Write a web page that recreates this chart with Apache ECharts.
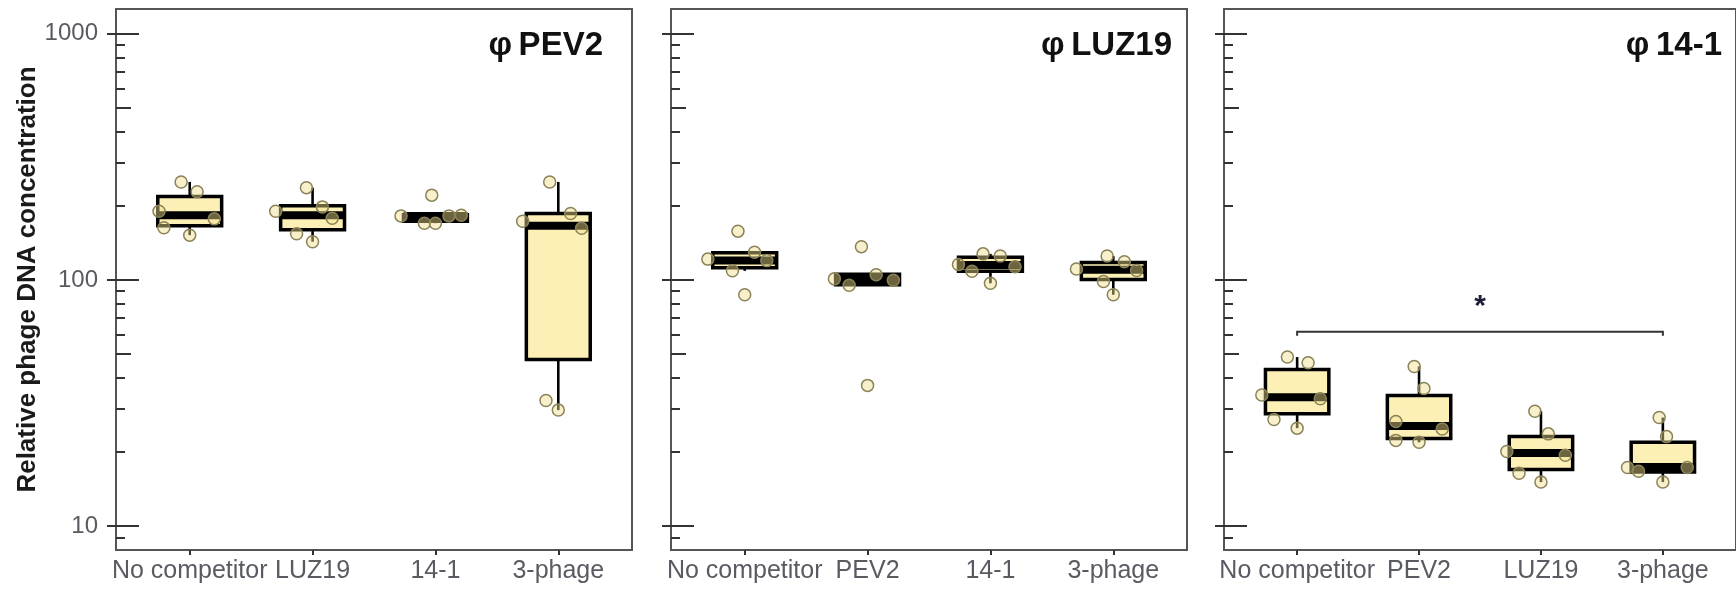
<!DOCTYPE html>
<html><head><meta charset="utf-8">
<script src="https://cdn.jsdelivr.net/npm/echarts@6/dist/echarts.min.js"></script>
<style>html,body{margin:0;padding:0;background:#fff}#c{width:1736px;height:593px}</style>
</head><body><div id="c"></div>
<script>
// ---------------- DATA ----------------
const panelTitles = ['φ\u2009PEV2', 'φ\u2009LUZ19', 'φ\u200914-1'];
const categoriesPEV2 = ['No competitor', 'LUZ19', '14-1', '3-phage'];
const categoriesLUZ19 = ['No competitor', 'PEV2', '14-1', '3-phage'];
const categories141 = ['No competitor', 'PEV2', 'LUZ19', '3-phage'];

// box statistics: [whisker low, Q1, median, Q3, whisker high]
const boxPEV2 = [[152, 166, 183, 218, 250], [143, 160, 183, 200, 237], [170, 173, 182, 184, 184], [29.6, 47.5, 166, 186, 250]];
const boxLUZ19 = [[108.9, 112, 120, 129, 129.5], [95.2, 95.5, 100.3, 105.5, 105.5], [96.9, 108.5, 115, 123.5, 127.6], [87.1, 100.3, 110, 117.7, 125]];
const box141 = [[25, 28.6, 33.4, 43.3, 48.6], [21.9, 22.7, 25.5, 33.9, 44.5], [15.1, 17, 19.8, 23.1, 29.3], [15.1, 16.6, 17.4, 21.9, 27.6]];

// individual replicate values
const ptsPEV2 = [[250, 228, 190, 177, 163, 152], [237, 198, 190, 178, 154, 143], [221, 182, 170, 170, 182, 183], [250, 186, 173, 162, 32.4, 29.6]];
const ptsLUZ19 = [[157.8, 121.5, 129.5, 119.8, 108.9, 87.1], [136.5, 101, 95.2, 105, 99.7, 37.3], [127.6, 125, 115.6, 108.5, 113.2, 96.9], [110.8, 125, 118.5, 109.3, 98.6, 87.1]];
const pts141 = [[48.6, 46.1, 34.1, 32.9, 27.1, 25.0], [44.5, 36.2, 26.6, 24.8, 22.3, 21.9], [29.3, 23.7, 20.1, 19.4, 16.4, 15.1], [27.6, 23.1, 17.3, 16.7, 17.3, 15.1]];
// horizontal jitter of each replicate (category units)
const jitPEV2 = [[-0.07, 0.06, -0.25, 0.2, -0.21, 0], [-0.05, 0.08, -0.3, 0.16, -0.13, 0], [-0.03, -0.28, -0.09, 0, 0.11, 0.21], [-0.07, 0.1, -0.29, 0.19, -0.1, 0]];
const jitLUZ19 = [[-0.055, -0.3, 0.08, 0.18, -0.1, 0], [-0.05, -0.27, -0.15, 0.07, 0.21, 0], [-0.06, 0.08, -0.26, -0.15, 0.2, 0], [-0.3, -0.05, 0.09, 0.19, -0.08, 0]];
const jit141 = [[-0.08, 0.09, -0.29, 0.19, -0.19, 0], [-0.04, 0.04, -0.19, 0.19, -0.19, 0], [-0.05, 0.06, -0.28, 0.2, -0.18, 0], [-0.03, 0.03, -0.29, -0.2, 0.2, 0]];

// significance bracket in panel 3: from category 0 to 3
const sigFrom = 0, sigTo = 3, sigLevel = 61.6, sigStarLevel = 79.7, sigText = '*';

// axis ticks
const yTickMajor = [10, 100, 1000];
const yTickLabels = ['10', '100', '1000'];
const yTickMid = [50, 500];
const yTickMinor = [9, 20, 30, 40, 60, 70, 80, 90, 200, 300, 400, 600, 700, 800, 900];
const yMin = 8, yMax = 1260;
const yTitle = 'Relative phage DNA concentration';

// ---------------- CHART ----------------
const panels = [
  {cats: categoriesPEV2, box: boxPEV2, pts: ptsPEV2, jit: jitPEV2},
  {cats: categoriesLUZ19, box: boxLUZ19, pts: ptsLUZ19, jit: jitLUZ19},
  {cats: categories141, box: box141, pts: pts141, jit: jit141}
];
const FONT = 'Liberation Sans, Arial, sans-serif';
const gridLefts = [116, 671, 1224];
const titleRights = [1133, 564, 14];

const grid = [], xAxis = [], yAxis = [], series = [], title = [];
panels.forEach((p, g) => {
  grid.push({left: gridLefts[g], top: 9, width: 516, height: 541, show: true, borderColor: '#555', borderWidth: 2, backgroundColor: 'transparent'});
  title.push({text: panelTitles[g], right: titleRights[g], top: 29, padding: 0,
    textStyle: {fontSize: 33, fontWeight: 'bold', color: '#111', fontFamily: FONT}});
  const cats = p.cats;
  xAxis.push({gridIndex: g, type: 'value', min: -0.6, max: 3.6, splitLine: {show: false},
    axisLine: {show: true, onZero: false, lineStyle: {color: '#555', width: 2}},
    axisTick: {show: true, customValues: [0, 1, 2, 3], length: 5, lineStyle: {color: '#333', width: 2}},
    axisLabel: {show: true, customValues: [0, 1, 2, 3], formatter: v => cats[Math.round(v)],
      fontSize: 25, color: '#5a5b62', margin: 9, fontFamily: FONT}});
  const base = {gridIndex: g, type: 'log', logBase: 10, min: yMin, max: yMax, position: 'left', splitLine: {show: false}};
  // main axis (with labels on panel 1)
  yAxis.push(Object.assign({}, base, {
    axisLine: {show: true, onZero: false, lineStyle: {color: '#555', width: 2}},
    axisTick: {show: true, inside: false, customValues: yTickMajor, length: 9, lineStyle: {color: '#333', width: 2}},
    axisLabel: {show: g === 0, customValues: yTickMajor, formatter: v => yTickLabels[yTickMajor.indexOf(Math.round(v))] || '',
      fontSize: 24, color: '#5a5b62', margin: 18, fontFamily: FONT},
    name: g === 0 ? yTitle : '', nameLocation: 'middle', nameRotate: 90, nameGap: 73,
    nameTextStyle: {fontSize: 26, fontWeight: 'bold', color: '#1a1a1a', fontFamily: FONT}
  }));
  yAxis.push(Object.assign({}, base, {axisLine: {show: false, onZero: false}, axisLabel: {show: false},
    axisTick: {show: true, inside: true, customValues: yTickMajor, length: 23, lineStyle: {color: '#333', width: 2}}}));
  yAxis.push(Object.assign({}, base, {axisLine: {show: false, onZero: false}, axisLabel: {show: false},
    axisTick: {show: true, inside: true, customValues: yTickMid, length: 15, lineStyle: {color: '#333', width: 2}}}));
  yAxis.push(Object.assign({}, base, {axisLine: {show: false, onZero: false}, axisLabel: {show: false},
    axisTick: {show: true, inside: true, customValues: yTickMinor, length: 9, lineStyle: {color: '#333', width: 2}}}));

  // boxes
  series.push({
    type: 'custom', xAxisIndex: g, yAxisIndex: g * 4, silent: true, z: 2,
    data: p.box.map((b, i) => [i].concat(b)),
    encode: {x: 0, y: [1, 2, 3, 4, 5]},
    renderItem: (params, api) => {
      const x = api.value(0);
      const pLo = api.coord([x, api.value(1)]), pQ1 = api.coord([x, api.value(2)]),
            pMed = api.coord([x, api.value(3)]), pQ3 = api.coord([x, api.value(4)]), pHi = api.coord([x, api.value(5)]);
      const half = api.size([0.52, 0])[0] / 2;
      const st = {stroke: '#000', lineWidth: 2.6};
      return {type: 'group', children: [
        {type: 'line', shape: {x1: pQ3[0], y1: pQ3[1], x2: pHi[0], y2: pHi[1]}, style: st},
        {type: 'line', shape: {x1: pQ1[0], y1: pQ1[1], x2: pLo[0], y2: pLo[1]}, style: st},
        {type: 'rect', shape: {x: pQ3[0] - half, y: pQ3[1], width: 2 * half, height: pQ1[1] - pQ3[1]},
          style: {fill: '#FDF0B6', stroke: '#000', lineWidth: 3.5}},
        {type: 'line', shape: {x1: pMed[0] - half, y1: pMed[1], x2: pMed[0] + half, y2: pMed[1]},
          style: {stroke: '#000', lineWidth: 8}}
      ]};
    }
  });
  // replicate points
  const pdata = [];
  p.pts.forEach((arr, i) => arr.forEach((v, k) => pdata.push([i + p.jit[i][k], v])));
  series.push({
    type: 'scatter', xAxisIndex: g, yAxisIndex: g * 4, silent: true, z: 3,
    symbol: 'circle', symbolSize: 12, data: pdata,
    itemStyle: {color: 'rgba(240,222,140,0.45)', borderColor: '#8a8258', borderWidth: 1.5, opacity: 1}
  });
});

// significance bracket (panel 3)
series.push({
  type: 'custom', xAxisIndex: 2, yAxisIndex: 8, silent: true, z: 4,
  data: [[sigFrom, sigTo, sigLevel, sigStarLevel]],
  encode: {x: [0, 1], y: [2, 3]},
  renderItem: (params, api) => {
    const a = api.coord([api.value(0), api.value(2)]);
    const b = api.coord([api.value(1), api.value(2)]);
    const s = api.coord([(api.value(0) + api.value(1)) / 2, api.value(3)]);
    return {type: 'group', children: [
      {type: 'polyline', shape: {points: [[a[0], a[1] + 4], a, b, [b[0], b[1] + 4]]},
        style: {stroke: '#333', lineWidth: 2, fill: null}},
      {type: 'text', x: s[0], y: s[1] + 3, style: {text: sigText, fontSize: 30, fontWeight: 'bold',
        fill: '#1e1e3c', fontFamily: FONT, align: 'center', verticalAlign: 'middle'}}
    ]};
  }
});

const chart = echarts.init(document.getElementById('c'), null, {renderer: 'canvas'});
chart.setOption({animation: false, backgroundColor: '#fff', title, grid, xAxis, yAxis, series});
</script></body></html>
